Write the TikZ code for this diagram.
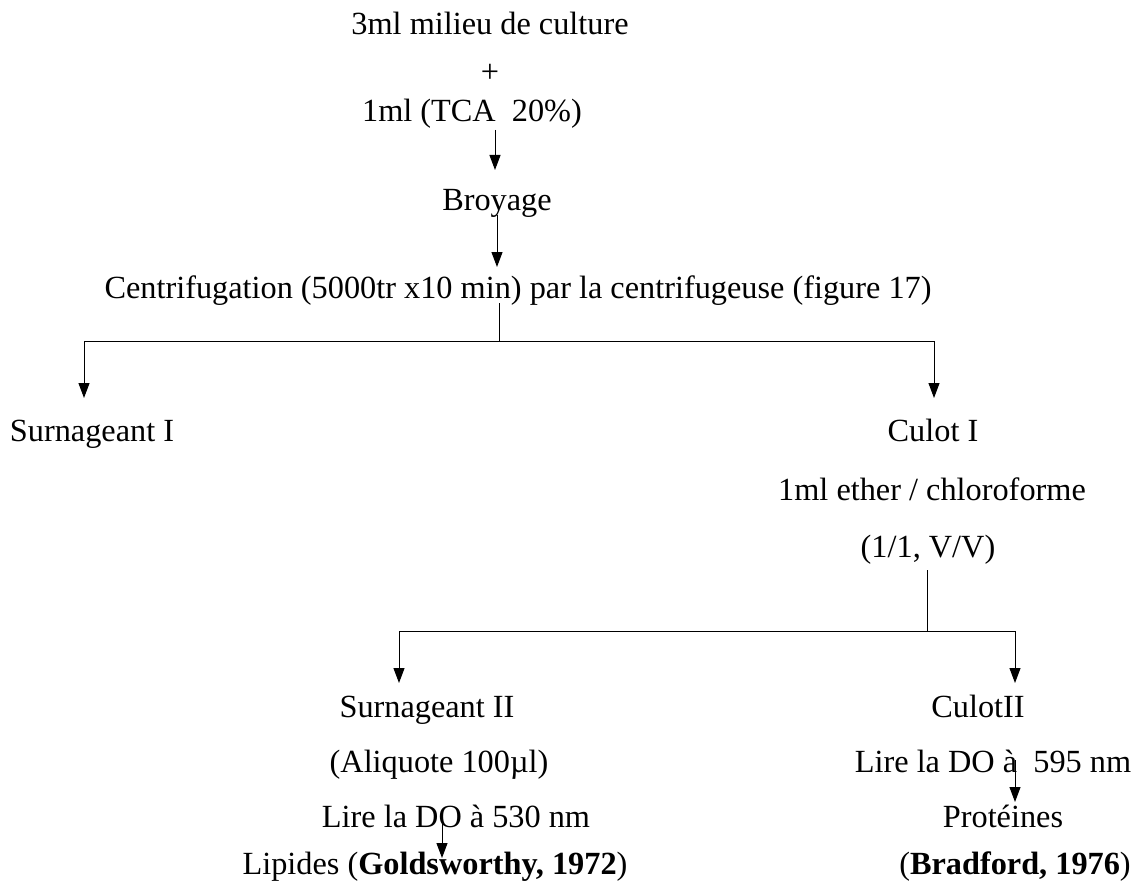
\documentclass[tikz,border=0pt]{standalone}
\usepackage{fontspec}
\setmainfont{Liberation Serif}
\usetikzlibrary{arrows.meta}
\begin{document}
\begin{tikzpicture}[x=1pt,y=-1pt,
  lbl/.style={inner sep=0pt,anchor=base,font=\fontsize{32.3}{38}\selectfont},
  arr/.style={line width=1pt,-{Triangle[length=15pt,width=11pt]}},
  ln/.style={line width=1pt}]
\useasboundingbox (0,0) rectangle (1133,888);
% texts (baselines)
\node[lbl] (milieu) at (490,35) {3ml milieu de culture};
\node[lbl] (plus) at (490,83) {+};
\node[lbl] (tca) at (472,122) {1ml (TCA\ \ 20\%)};
\node[lbl] (broy) at (497,211) {Broyage};
\node[lbl] (centri) at (518,298) {Centrifugation (5000tr x10 min) par la centrifugeuse (figure 17)};
\node[lbl] (surn1) at (92,441) {Surnageant I};
\node[lbl] (culot1) at (933,441) {Culot I};
\node[lbl] (ether) at (932,500) {1ml ether / chloroforme};
\node[lbl] (vv) at (928,557) {(1/1, V/V)};
\node[lbl] (surn2) at (427,717) {Surnageant II};
\node[lbl] (culot2) at (978,717) {CulotII};
\node[lbl] (aliq) at (439,772) {(Aliquote 100µl)};
\node[lbl] (do595) at (993,772) {Lire la DO à\ \ 595 nm};
\node[lbl] (do530) at (456,827) {Lire la DO à 530 nm};
\node[lbl] (prot) at (1003,827) {Protéines};
\node[lbl] (lip) at (435,874) {Lipides (\textbf{Goldsworthy, 1972})};
\node[lbl] (brad) at (1015,874) {(\textbf{Bradford, 1976})};
% connector points
\coordinate (a1s) at (495,130);
\coordinate (a1e) at (495,170);
\coordinate (a2s) at (497,215);
\coordinate (a2e) at (497,267);
\coordinate (c1) at (499,303);
\coordinate (c2) at (499,341);
\coordinate (hl) at (84,341);
\coordinate (hr) at (934,341);
\coordinate (hle) at (84,398);
\coordinate (hre) at (934,398);
\coordinate (d1) at (927,570);
\coordinate (d2) at (927,631);
\coordinate (gl) at (399,631);
\coordinate (gr) at (1015,631);
\coordinate (gle) at (399,683);
\coordinate (gre) at (1015,683);
\coordinate (s1) at (442,817);
\coordinate (s1e) at (442,858);
\coordinate (s2) at (1015,760);
\coordinate (s2e) at (1015,802);
% connectors
\draw[arr] (a1s) -- (a1e);
\draw[arr] (a2s) -- (a2e);
\draw[ln] (c1) -- (c2);
\draw[arr] (c2) -- (hl) -- (hle);
\draw[arr] (c2) -- (hr) -- (hre);
\draw[ln] (d1) -- (d2);
\draw[arr] (d2) -- (gl) -- (gle);
\draw[arr] (d2) -- (gr) -- (gre);
\draw[arr] (s1) -- (s1e);
\draw[arr] (s2) -- (s2e);
\end{tikzpicture}
\end{document}
